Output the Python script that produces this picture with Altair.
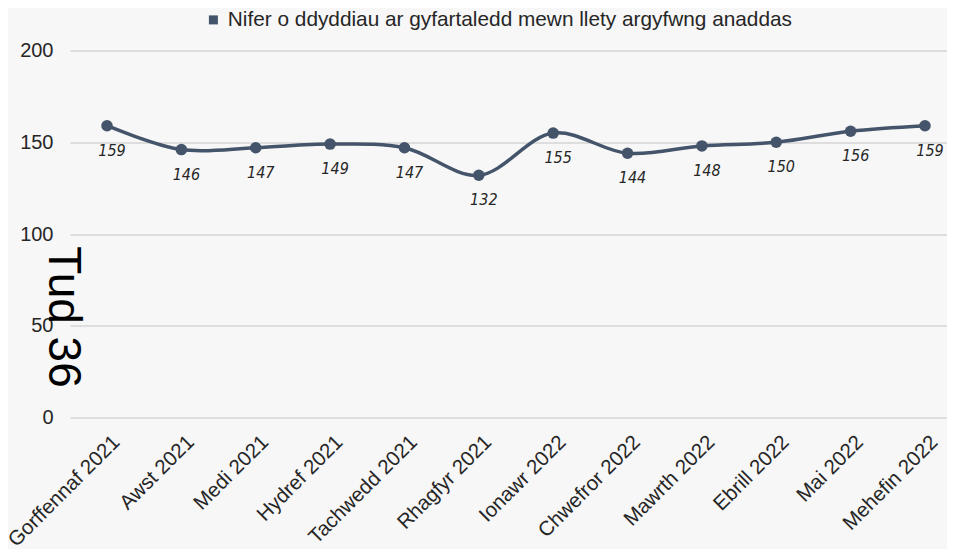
import altair as alt
import pandas as pd

months = ["Gorffennaf 2021", "Awst 2021", "Medi 2021", "Hydref 2021", "Tachwedd 2021",
          "Rhagfyr 2021", "Ionawr 2022", "Chwefror 2022", "Mawrth 2022", "Ebrill 2022",
          "Mai 2022", "Mehefin 2022"]
values = [159, 146, 147, 149, 147, 132, 155, 144, 148, 150, 156, 159]
series_name = "Nifer o ddyddiau ar gyfartaledd mewn llety argyfwng anaddas"
y_title = "Tud 36"

df = pd.DataFrame({"month": months, "value": values, "series": [series_name] * len(months)})

LINE = "#44546a"
TXT = "#262626"
BG = "#f7f7f7"

x_enc = alt.X(
    "month:N", sort=months, title=None,
    scale=alt.Scale(type="point", padding=0.397, align=0.627),
    axis=alt.Axis(labelAngle=-45, labelAlign="right", labelBaseline="top",
                  labelFontSize=20.5, labelFont="Liberation Sans", labelColor=TXT,
                  labelOffset=2, labelPadding=14, ticks=False, domain=False,
                  grid=False, labelOverlap=False),
)
y_enc = alt.Y(
    "value:Q", scale=alt.Scale(domain=[0, 200]),
    axis=alt.Axis(values=[0, 50, 100, 150, 200], ticks=False, domain=False,
                  grid=True, gridColor="#c4c4c4", gridWidth=1,
                  labelFontSize=20, labelFont="Liberation Sans", labelColor=TXT,
                  labelPadding=17,
                  title=y_title, titleAngle=90, titleFontSize=46,
                  titleFont="Liberation Sans", titleFontWeight="normal",
                  titleColor="#000000", titleAlign="center", titleBaseline="middle",
                  titleX=-8, titleY=266),
)

base = alt.Chart(df).encode(x=x_enc, y=y_enc)

line = base.mark_line(interpolate="catmull-rom", strokeWidth=3.5, color=LINE)
points = base.mark_point(filled=True, size=133, opacity=1).encode(
    color=alt.Color("series:N", scale=alt.Scale(range=[LINE]),
                    legend=alt.Legend(title=None, orient="none", legendX=133, legendY=-41,
                                      symbolType="square", symbolSize=81,
                                      symbolStrokeWidth=0, labelFontSize=20.8,
                                      labelFont="Liberation Sans", labelColor=TXT,
                                      labelOffset=4, padding=0, labelLimit=800))
)
labels = base.mark_text(dx=5, dy=25, font="DejaVu Sans Condensed, Roboto, sans-serif",
                        fontStyle="italic", fontSize=16, color=TXT).encode(text="value:Q")

chart = alt.layer(line, points, labels).properties(
    width=877, height=367,
    autosize=alt.AutoSizeParams(type="none"),
    padding={"left": 62, "top": 42.5, "right": 0, "bottom": 131.5},
    background=BG,
).configure_view(stroke=None)

chart.save("out.html", embed_options={"renderer": "svg", "actions": False})
